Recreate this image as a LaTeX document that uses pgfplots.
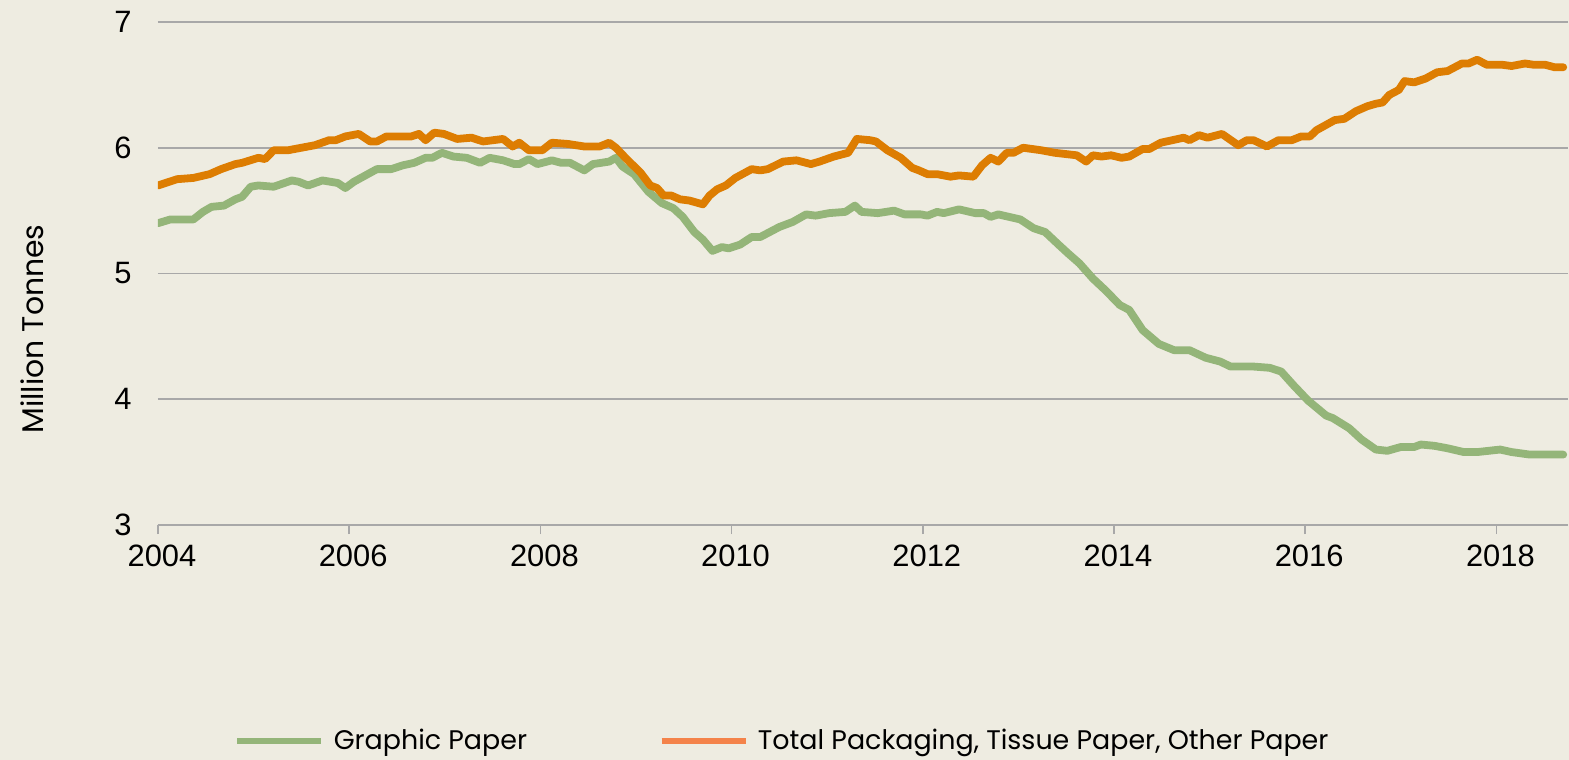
\documentclass[border=0pt]{standalone}
\usepackage{fontspec}
\usepackage{pgfplots}
\pgfplotsset{compat=1.18}
\setmainfont{Poppins}
\newfontfamily\arialf{Liberation Sans}
\newfontfamily\gothicf{Poppins}
\definecolor{bgc}{RGB}{238,236,225}
\definecolor{gridc}{RGB}{168,168,168}
\definecolor{greenc}{RGB}{148,181,121}
\definecolor{orangec}{RGB}{221,125,2}
\definecolor{legorange}{RGB}{244,131,74}

\pgfplotstableread{
x v
2004.00 5.40
2004.13 5.43
2004.37 5.43
2004.47 5.49
2004.56 5.53
2004.69 5.54
2004.81 5.59
2004.88 5.61
2004.97 5.69
2005.05 5.70
2005.21 5.69
2005.40 5.74
2005.47 5.73
2005.57 5.70
2005.72 5.74
2005.88 5.72
2005.96 5.68
2006.05 5.73
2006.17 5.78
2006.29 5.83
2006.44 5.83
2006.56 5.86
2006.68 5.88
2006.80 5.92
2006.87 5.92
2006.97 5.96
2007.09 5.93
2007.23 5.92
2007.37 5.88
2007.47 5.92
2007.61 5.90
2007.73 5.87
2007.78 5.87
2007.88 5.91
2007.97 5.87
2008.12 5.90
2008.22 5.88
2008.31 5.88
2008.46 5.82
2008.55 5.87
2008.72 5.89
2008.79 5.92
2008.86 5.85
2008.98 5.79
2009.13 5.65
2009.27 5.56
2009.39 5.52
2009.49 5.45
2009.61 5.33
2009.70 5.27
2009.80 5.18
2009.90 5.21
2009.97 5.20
2010.09 5.23
2010.21 5.29
2010.30 5.29
2010.50 5.37
2010.64 5.41
2010.78 5.47
2010.88 5.46
2011.02 5.48
2011.19 5.49
2011.29 5.54
2011.36 5.49
2011.53 5.48
2011.70 5.50
2011.81 5.47
2011.98 5.47
2012.05 5.46
2012.15 5.49
2012.22 5.48
2012.38 5.51
2012.55 5.48
2012.64 5.48
2012.71 5.45
2012.79 5.47
2013.02 5.43
2013.16 5.36
2013.28 5.33
2013.42 5.23
2013.52 5.16
2013.64 5.08
2013.78 4.96
2013.92 4.86
2014.06 4.75
2014.16 4.71
2014.30 4.55
2014.47 4.44
2014.63 4.39
2014.79 4.39
2014.96 4.33
2015.11 4.30
2015.22 4.26
2015.46 4.26
2015.63 4.25
2015.75 4.22
2015.88 4.11
2016.03 3.99
2016.22 3.87
2016.29 3.85
2016.46 3.77
2016.59 3.68
2016.74 3.60
2016.86 3.59
2017.00 3.62
2017.14 3.62
2017.21 3.64
2017.35 3.63
2017.49 3.61
2017.66 3.58
2017.80 3.58
2018.04 3.60
2018.16 3.58
2018.35 3.56
2018.51 3.56
2018.58 3.56
2018.70 3.56
}\graphic

\pgfplotstableread{
x v
2004.00 5.70
2004.20 5.75
2004.37 5.76
2004.54 5.79
2004.66 5.83
2004.81 5.87
2004.88 5.88
2005.05 5.92
2005.12 5.91
2005.21 5.98
2005.36 5.98
2005.50 6.00
2005.64 6.02
2005.79 6.06
2005.86 6.06
2005.96 6.09
2006.10 6.11
2006.22 6.05
2006.29 6.05
2006.39 6.09
2006.65 6.09
2006.73 6.11
2006.80 6.06
2006.89 6.12
2006.99 6.11
2007.13 6.07
2007.28 6.08
2007.40 6.05
2007.61 6.07
2007.71 6.01
2007.78 6.04
2007.88 5.98
2008.02 5.98
2008.12 6.04
2008.29 6.03
2008.46 6.01
2008.62 6.01
2008.72 6.04
2008.79 6.00
2008.89 5.92
2009.05 5.80
2009.15 5.70
2009.22 5.68
2009.29 5.62
2009.37 5.62
2009.46 5.59
2009.56 5.58
2009.70 5.55
2009.77 5.62
2009.85 5.67
2009.94 5.70
2010.04 5.76
2010.21 5.83
2010.30 5.82
2010.38 5.83
2010.54 5.89
2010.68 5.90
2010.83 5.87
2010.92 5.89
2011.07 5.93
2011.22 5.96
2011.31 6.07
2011.45 6.06
2011.51 6.05
2011.63 5.98
2011.77 5.92
2011.89 5.84
2011.96 5.82
2012.05 5.79
2012.15 5.79
2012.29 5.77
2012.38 5.78
2012.53 5.77
2012.62 5.86
2012.71 5.92
2012.79 5.89
2012.88 5.96
2012.95 5.96
2013.05 6.00
2013.24 5.98
2013.38 5.96
2013.61 5.94
2013.71 5.89
2013.78 5.94
2013.87 5.93
2013.97 5.94
2014.08 5.92
2014.16 5.93
2014.30 5.99
2014.37 5.99
2014.49 6.04
2014.61 6.06
2014.73 6.08
2014.79 6.06
2014.89 6.10
2014.98 6.08
2015.13 6.11
2015.30 6.02
2015.39 6.06
2015.46 6.06
2015.60 6.01
2015.72 6.06
2015.86 6.06
2015.96 6.09
2016.05 6.09
2016.12 6.14
2016.31 6.22
2016.41 6.23
2016.53 6.29
2016.65 6.33
2016.74 6.35
2016.81 6.36
2016.88 6.42
2016.98 6.46
2017.04 6.53
2017.14 6.52
2017.26 6.55
2017.38 6.60
2017.49 6.61
2017.64 6.67
2017.71 6.67
2017.80 6.70
2017.90 6.66
2018.06 6.66
2018.16 6.65
2018.30 6.67
2018.39 6.66
2018.51 6.66
2018.61 6.64
2018.70 6.64
}\packaging

\begin{document}
\begin{tikzpicture}
\fill[bgc] (-79bp,-117.5bp) rectangle (705.5bp,262.5bp);
\path[use as bounding box] (-79bp,-117.5bp) rectangle (705.5bp,262.5bp);
\begin{axis}[
  at={(0,0)}, anchor=south west,
  scale only axis, width=705bp, height=251.5bp,
  xmin=2004, xmax=2018.75, ymin=3, ymax=7,
  xtick={2004,2006,...,2018}, minor x tick num=3,
  ytick={3,4,5,6,7},
  /pgf/number format/1000 sep={},
  /pgf/number format/assume math mode=true,
  tick label style={font=\arialf\fontsize{15.5}{18}\selectfont, text=black},
  axis x line*=bottom, axis y line*=left,
  x axis line style={draw=gridc, line width=0.9bp, -},
  y axis line style={draw=none},
  tick align=outside,
  major tick length=4.5bp, minor tick length=4.5bp,
  x tick style={draw=gridc, line width=0.8bp},
  minor x tick style={draw=gridc, line width=0.8bp},
  y tick style={draw=none},
  ymajorgrids, major grid style={draw=gridc, line width=0.9bp},
  xticklabel style={anchor=north, inner sep=0pt, yshift=-5.5bp, xshift=2bp},
  yticklabel style={anchor=east, inner sep=0pt, xshift=-8.5bp},
  ylabel={Million Tonnes},
  every axis y label/.style={at={(axis description cs:-0.0894,0.3897)}, rotate=90, anchor=center, font=\gothicf\fontsize{15}{18}\selectfont},
  legend columns=2,
  legend style={at={(axis description cs:0.0536,-0.4294)}, anchor=west, draw=none, fill=none, inner sep=0pt,
    font=\gothicf\fontsize{13.5}{16}\selectfont,
    nodes={inner xsep=4.5bp},
    /tikz/every even column/.append style={column sep=61bp}},
  legend image code/.code={\draw[#1] (0bp,0bp) -- (42bp,0bp);},
]
\addplot[greenc, line width=3.9bp, line join=round, line cap=round, forget plot] table[x=x,y=v] {\graphic};
\addplot[orangec, line width=3.9bp, line join=round, line cap=round, forget plot] table[x=x,y=v] {\packaging};
\addlegendimage{greenc, line width=3.4bp}
\addlegendentry{Graphic Paper}
\addlegendimage{legorange, line width=3.4bp}
\addlegendentry{Total Packaging, Tissue Paper, Other Paper}
\end{axis}
\end{tikzpicture}
\end{document}
